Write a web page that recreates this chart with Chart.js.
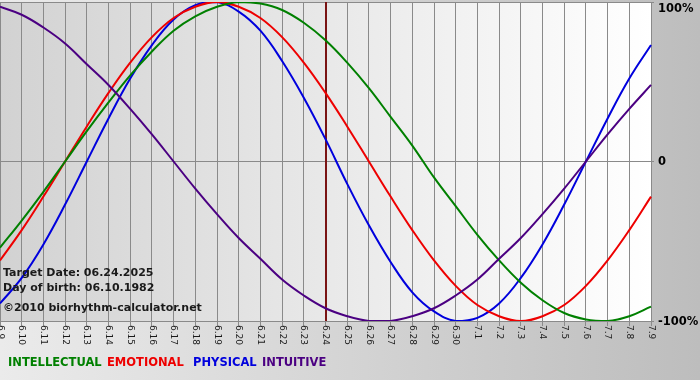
<!DOCTYPE html>
<html>
<head>
<meta charset="utf-8">
<script src="https://cdn.jsdelivr.net/npm/chart.js@4.4.0/dist/chart.umd.min.js"></script>
<style>
  html, body { margin: 0; padding: 0; background: #c0c0c0; }
  canvas { display: block; }
</style>
</head>
<body>
<canvas id="bio" width="700" height="380"></canvas>
<script>
// jours affiches (axe x)
var jours = ["6.9", "6.10", "6.11", "6.12", "6.13", "6.14", "6.15", "6.16", "6.17", "6.18",
  "6.19", "6.20", "6.21", "6.22", "6.23", "6.24", "6.25", "6.26", "6.27", "6.28",
  "6.29", "6.30", "7.1", "7.2", "7.3", "7.4", "7.5", "7.6", "7.7", "7.8", "7.9"];

// valeurs (-1 = -100%, 1 = 100%)
var intellectual = [-0.54, -0.37, -0.19, 0, 0.19, 0.37, 0.54, 0.69, 0.82, 0.91, 0.97, 1.00, 0.99, 0.95, 0.87,
  0.76, 0.62, 0.46, 0.28, 0.10, -0.10, -0.28, -0.46, -0.62, -0.76, -0.87, -0.95, -0.99, -1.00, -0.97, -0.91];
var emotional = [-0.62, -0.43, -0.22, 0, 0.22, 0.43, 0.62, 0.78, 0.90, 0.97, 1.00, 0.97, 0.90, 0.78, 0.62,
  0.43, 0.22, 0, -0.22, -0.43, -0.62, -0.78, -0.90, -0.97, -1.00, -0.97, -0.90, -0.78, -0.62, -0.43, -0.22];
var physical = [-0.89, -0.73, -0.52, -0.27, 0, 0.27, 0.52, 0.73, 0.89, 0.98, 1.00, 0.94, 0.82, 0.63, 0.40,
  0.14, -0.14, -0.40, -0.63, -0.82, -0.94, -1.00, -0.98, -0.89, -0.73, -0.52, -0.27, 0, 0.27, 0.52, 0.73];
var intuitive = [0.97, 0.92, 0.84, 0.74, 0.61, 0.48, 0.33, 0.17, 0, -0.17, -0.33, -0.48, -0.61, -0.74, -0.84,
  -0.92, -0.97, -1.00, -1.00, -0.97, -0.92, -0.84, -0.74, -0.61, -0.48, -0.33, -0.17, 0, 0.17, 0.33, 0.48];

var yTicks = [1, 0, -1];
var yTickLabels = ["100%", "0", "-100%"];
var targetDay = "6.24";
var infoLines = ["Target Date: 06.24.2025", "Day of birth: 06.10.1982", "\u00a92010 biorhythm-calculator.net"];
var legendNames = ["INTELLECTUAL", "EMOTIONAL", "PHYSICAL", "INTUITIVE"];

var cGreen = "#008000";
var cRed = "#ee0000";
var cBlue = "#0000dd";
var cPurple = "#4b0082";
var legendColors = [cGreen, cRed, cBlue, cPurple];

// fond + ligne du jour cible
var fondPlugin = {
  id: "fond",
  beforeDraw: function (chart) {
    var ctx = chart.ctx;
    var a = chart.chartArea;
    var g = ctx.createLinearGradient(0, 0, chart.width, 0);
    g.addColorStop(0, "#ebebeb");
    g.addColorStop(1, "#bdbdbd");
    ctx.save();
    ctx.fillStyle = g;
    ctx.fillRect(0, 0, chart.width, chart.height);
    var g2 = ctx.createLinearGradient(a.left, 0, a.right, 0);
    g2.addColorStop(0, "#d2d2d2");
    g2.addColorStop(1, "#ffffff");
    ctx.fillStyle = g2;
    ctx.fillRect(a.left, a.top, a.right - a.left, a.bottom - a.top);
    ctx.restore();
  },
  beforeDatasetsDraw: function (chart) {
    var ctx = chart.ctx;
    var a = chart.chartArea;
    var x = Math.round(chart.scales.x.getPixelForValue(jours.indexOf(targetDay)));
    ctx.save();
    ctx.strokeStyle = "#7a1414";
    ctx.lineWidth = 2;
    ctx.beginPath();
    ctx.moveTo(x, a.top);
    ctx.lineTo(x, a.bottom);
    ctx.stroke();
    ctx.restore();
  },
  afterDraw: function (chart) {
    var ctx = chart.ctx;
    var a = chart.chartArea;
    var sx = chart.scales.x;
    var sy = chart.scales.y;
    ctx.save();

    // etiquettes de l'axe x, tournees de 90 degres
    ctx.font = "9px 'DejaVu Sans'";
    ctx.fillStyle = "#1a1a1a";
    ctx.textAlign = "left";
    ctx.textBaseline = "middle";
    jours.forEach(function (j, i) {
      var x = sx.getPixelForValue(i);
      ctx.save();
      ctx.translate(x, a.bottom + 4);
      ctx.rotate(Math.PI / 2);
      ctx.fillText(j, 0, 0);
      ctx.restore();
    });

    // etiquettes de l'axe y
    ctx.font = "bold 11.5px 'DejaVu Sans'";
    ctx.fillStyle = "#000";
    ctx.textBaseline = "middle";
    yTicks.forEach(function (v, i) {
      var y = sy.getPixelForValue(v);
      if (i === 0) y += 6;
      ctx.fillText(yTickLabels[i], a.right + 7, y + 1);
    });

    // textes d'info
    ctx.font = "bold 11px 'DejaVu Sans'";
    ctx.fillStyle = "#1a1a1a";
    ctx.textBaseline = "alphabetic";
    ctx.fillText(infoLines[0], 3, 276);
    ctx.fillText(infoLines[1], 3, 291);
    ctx.fillText(infoLines[2], 3, 311);

    // legende
    ctx.font = "bold 11.5px 'DejaVu Sans'";
    var lx = [8, 107, 193, 262];
    legendNames.forEach(function (n, i) {
      ctx.fillStyle = legendColors[i];
      ctx.fillText(n, lx[i], 366);
    });
    ctx.restore();
  }
};

var ctx = document.getElementById("bio");
var bioChart = new Chart(ctx, {
  type: "line",
  data: {
    labels: jours,
    datasets: [
      { label: "INTUITIVE", data: intuitive, borderColor: cPurple },
      { label: "INTELLECTUAL", data: intellectual, borderColor: cGreen },
      { label: "EMOTIONAL", data: emotional, borderColor: cRed },
      { label: "PHYSICAL", data: physical, borderColor: cBlue }
    ]
  },
  options: {
    responsive: false,
    animation: false,
    layout: { padding: { left: 0, top: 2, right: 46, bottom: 54 } },
    elements: {
      line: { borderWidth: 2, tension: 0.4, fill: false },
      point: { radius: 0 }
    },
    plugins: { legend: { display: false }, tooltip: { enabled: false } },
    scales: {
      x: {
        offset: false,
        ticks: { display: false },
        grid: { color: "#8a8a8a", lineWidth: 1, drawTicks: true, tickLength: 5 },
        border: { color: "#8a8a8a" }
      },
      y: {
        position: "right",
        min: -1,
        max: 1,
        ticks: { display: false, stepSize: 1 },
        grid: { color: "#8a8a8a", lineWidth: 1, drawTicks: true, tickLength: 3 },
        border: { color: "#8a8a8a" }
      }
    }
  },
  plugins: [fondPlugin]
});
</script>
</body>
</html>
